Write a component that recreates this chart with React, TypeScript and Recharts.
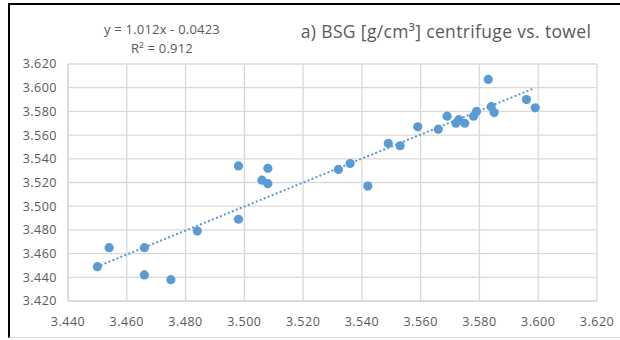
import { ScatterChart, Scatter, XAxis, YAxis, CartesianGrid, ReferenceLine } from "recharts";

// centrifuge (x) vs. towel (y), BSG in g/cm³
const centrifuge = [
  3.450, 3.454, 3.466, 3.466, 3.475, 3.484, 3.498, 3.508, 3.506, 3.508,
  3.498, 3.532, 3.536, 3.542, 3.549, 3.553, 3.559, 3.566, 3.569, 3.572,
  3.573, 3.575, 3.578, 3.579, 3.583, 3.584, 3.585, 3.596, 3.599,
];
const towel = [
  3.449, 3.465, 3.465, 3.442, 3.438, 3.479, 3.534, 3.532, 3.522, 3.519,
  3.489, 3.531, 3.536, 3.517, 3.553, 3.551, 3.567, 3.565, 3.576, 3.570,
  3.573, 3.570, 3.576, 3.580, 3.607, 3.584, 3.579, 3.590, 3.583,
];
const ticks = [3.44, 3.46, 3.48, 3.5, 3.52, 3.54, 3.56, 3.58, 3.6, 3.62];
const yTicks = [3.42, 3.44, 3.46, 3.48, 3.5, 3.52, 3.54, 3.56, 3.58, 3.6, 3.62];
const slope = 1.012;
const intercept = -0.0423;

const points = centrifuge.map((x, i) => ({ x, y: towel[i] }));
const xMin = Math.min(...centrifuge);
const xMax = Math.max(...centrifuge);

const BLUE = "#5B9BD5";
const TEXT = "#595959";
const GRID = "#D9D9D9";
const FONT = "'Open Sans', 'Liberation Sans', sans-serif";

const tickStyle = { fontSize: 12.5, fill: TEXT, fontFamily: FONT, letterSpacing: 0.5 };

const fmt = (v: number) => v.toFixed(3);

export default function App() {
  return (
    <div
      style={{
        position: "absolute",
        left: 8,
        top: 3,
        width: 612,
        height: 335,
        boxSizing: "border-box",
        borderTop: "2px solid #000",
        borderLeft: "2px solid #000",
        borderBottom: `1px solid ${GRID}`,
        background: "#fff",
      }}
    >
      <ScatterChart
        width={610}
        height={332}
        margin={{ top: 59, right: 23, left: 0, bottom: 0 }}
        style={{ overflow: "visible" }}
      >
        <CartesianGrid stroke={GRID} strokeWidth={1.3} />
        <XAxis
          type="number"
          dataKey="x"
          domain={[3.44, 3.62]}
          ticks={ticks}
          tickFormatter={fmt}
          height={36}
          tickLine={false}
          tickSize={0}
          tickMargin={16}
          axisLine={{ stroke: GRID, strokeWidth: 1.3 }}
          tick={tickStyle}
          interval={0}
        />
        <YAxis
          type="number"
          dataKey="y"
          domain={[3.42, 3.62]}
          ticks={yTicks}
          tickFormatter={fmt}
          width={58}
          tickLine={false}
          tickSize={0}
          tickMargin={11}
          axisLine={{ stroke: GRID, strokeWidth: 1.3 }}
          tick={tickStyle}
          interval={0}
        />
        <ReferenceLine
          segment={[
            { x: xMin, y: slope * xMin + intercept },
            { x: xMax, y: slope * xMax + intercept },
          ]}
          stroke={BLUE}
          strokeWidth={2.2}
          strokeDasharray="0.1 4.2"
          strokeLinecap="round"
          ifOverflow="visible"
        />
        <Scatter
          data={points}
          isAnimationActive={false}
          fill={BLUE}
          shape={(p: any) => <circle cx={p.cx} cy={p.cy} r={4.6} fill={BLUE} />}
        />
      </ScatterChart>
      <svg
        width={610}
        height={60}
        style={{ position: "absolute", left: 0, top: 0, pointerEvents: "none" }}
      >
        <text x={152} y={29} textAnchor="middle" fontSize={13} fill={TEXT} fontFamily={FONT} letterSpacing={0.2}>
          y = 1.012x - 0.0423
        </text>
        <text x={152} y={48} textAnchor="middle" fontSize={13} fill={TEXT} fontFamily={FONT} letterSpacing={0.2}>
          R² = 0.912
        </text>
        <text x={436} y={33} textAnchor="middle" fontSize={17.5} fill={TEXT} fontFamily={FONT} letterSpacing={0.35}>
          a) BSG [g/cm³] centrifuge vs. towel
        </text>
      </svg>
    </div>
  );
}
